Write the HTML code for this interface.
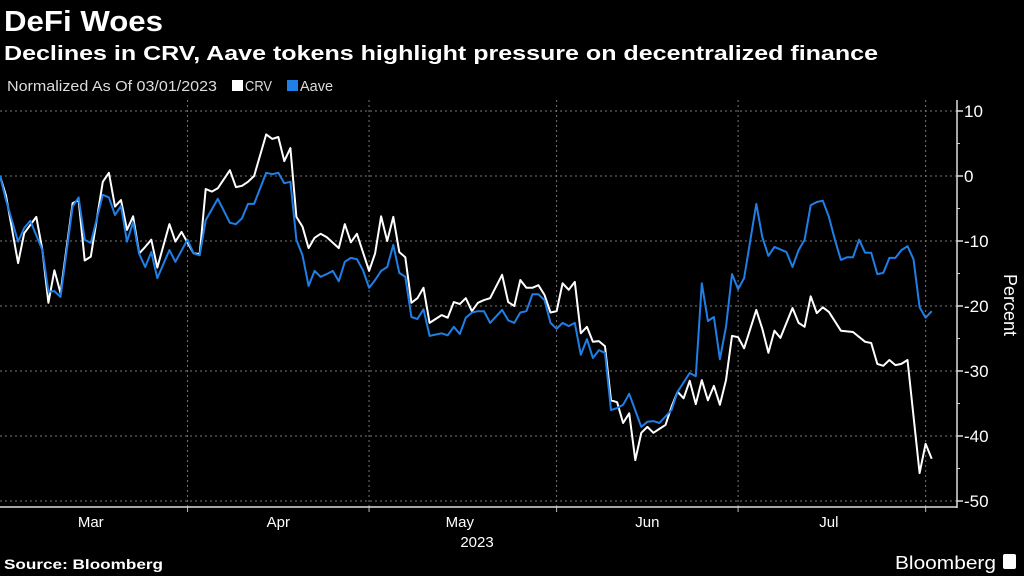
<!DOCTYPE html>
<html><head><meta charset="utf-8"><style>
html,body{margin:0;padding:0;background:#000;width:1024px;height:576px;overflow:hidden;font-family:"Liberation Sans",sans-serif;color:#fff}
svg text{font-family:"Liberation Sans",sans-serif}
</style></head><body>
<svg id="chart" width="1024" height="576">
<text x="4" y="31" font-size="29" font-weight="bold" fill="#fff" textLength="159" lengthAdjust="spacingAndGlyphs">DeFi Woes</text>
<text x="4" y="60" font-size="20" font-weight="bold" fill="#fff" textLength="874" lengthAdjust="spacingAndGlyphs">Declines in CRV, Aave tokens highlight pressure on decentralized finance</text>
<text x="7" y="91" font-size="15" fill="#ddd" textLength="210" lengthAdjust="spacingAndGlyphs">Normalized As Of 03/01/2023</text>
<g><rect x="232" y="80" width="11" height="11" fill="#fff"/><text x="245" y="91" font-size="15" fill="#ddd" textLength="27" lengthAdjust="spacingAndGlyphs">CRV</text></g>
<g><rect x="287" y="80" width="11" height="11" fill="#1f7fe6"/><text x="300" y="91" font-size="15" fill="#ddd" textLength="33" lengthAdjust="spacingAndGlyphs">Aave</text></g>
<g id="grid"></g>
<g id="axes"></g>
<g id="series"></g>
<text transform="translate(1004,305) rotate(90)" text-anchor="middle" font-size="18" fill="#fff">Percent</text>
<text x="477" y="547" text-anchor="middle" font-size="15" fill="#fff">2023</text>
<text x="4" y="569" font-size="14" font-weight="bold" fill="#fff" textLength="159" lengthAdjust="spacingAndGlyphs">Source: Bloomberg</text>
<text x="895" y="569" font-size="18" fill="#fff" textLength="101" lengthAdjust="spacingAndGlyphs">Bloomberg</text>
<rect x="1003" y="554" width="13" height="15" rx="2" fill="#fff"/>
</svg>
<script>
const crvDays=[0,1,3,4,6,7,8,9,10,12,13,14,15,17,18,19,20,21,22,23,24,25,26,28,29,30,32,33,34,35,36,38,39,40,41,42,44,45,46,47,48,49,50,51,52,53,54,56,57,58,59,61,62,63,64,65,66,67,68,69,70,71,73,74,75,76,77,78,79,80,81,83,84,85,86,87,88,89,90,91,92,93,94,95,96,97,98,99,100,101,102,103,104,105,106,107,108,109,110,111,112,113,114,115,116,117,118,119,120,121,122,123,125,126,127,128,129,131,132,133,134,135,136,137,139,141,143,144,145,146,147,148,149,150,152,153,154];
const crvValues=[0,-3,-13.4,-8.8,-6.3,-11.4,-19.5,-14.5,-18,-4.2,-3.7,-13,-12.4,-0.9,0.5,-4.7,-3.7,-8.3,-6.2,-11.9,-10.9,-9.8,-14.1,-7.4,-10.1,-8.6,-11.9,-12,-2,-2.4,-1.9,0.9,-1.7,-1.5,-0.9,0,6.4,5.7,6,2.3,4.3,-6.3,-7.8,-11.1,-9.5,-8.9,-9.4,-11.1,-7.4,-10.2,-8.9,-14.6,-11.9,-6.2,-10,-6.3,-11.7,-12.5,-19.5,-18.8,-17.2,-22.6,-21.4,-21.8,-19.4,-19.7,-18.8,-20.8,-19.5,-19.1,-18.8,-15.2,-19.4,-20,-16,-17.2,-17.2,-16.8,-18.3,-21,-20.8,-16.5,-17.5,-16.3,-24.2,-23.2,-25.5,-25.4,-26.2,-34.5,-34.8,-38,-36.5,-43.7,-39.5,-38.6,-39.5,-38.9,-38.3,-35.5,-33.2,-34.2,-31.5,-35.1,-31.4,-34.5,-32.3,-35.2,-31.4,-24.6,-24.8,-26.5,-20.6,-23.5,-27.2,-23.8,-24.9,-20.3,-22.6,-23.2,-18.5,-21.1,-20.2,-20.9,-23.8,-24,-25.5,-25.7,-28.9,-29.2,-28.3,-29.1,-28.9,-28.3,-45.7,-41.2,-43.5];
const aaveDays=[0,1,3,4,5,7,8,9,10,12,13,14,15,17,18,19,20,21,22,23,24,25,26,28,29,31,32,33,34,36,38,39,40,41,42,44,45,46,47,48,49,50,51,52,53,54,55,56,57,58,59,60,61,62,63,64,65,66,67,68,69,70,71,73,74,75,76,77,78,79,80,81,83,84,85,86,87,88,89,90,91,92,93,94,95,96,97,98,99,100,101,102,103,104,106,107,108,109,110,111,112,114,115,116,117,118,119,120,121,122,123,125,126,127,128,130,131,132,133,134,135,136,137,138,139,140,141,142,143,144,145,146,147,148,149,150,151,152,153,154];
const aaveValues=[0,-3.7,-10.1,-8,-6.9,-11.4,-17.8,-17.7,-18.6,-4.7,-3.3,-9.8,-10.3,-2.9,-3.3,-6,-4.6,-10.1,-7.1,-12,-14,-11.7,-15.7,-11.4,-13.2,-9.8,-11.9,-12.2,-6.8,-3.5,-7.2,-7.4,-6.5,-4.3,-4.3,0.5,0.3,0.5,-1.1,-0.9,-9.8,-12.2,-16.9,-14.6,-15.5,-15.1,-14.6,-16.2,-13.2,-12.6,-12.8,-14.5,-17.2,-16,-14.6,-14,-10.6,-14.9,-15.5,-21.7,-22,-20.5,-24.6,-24.2,-24.5,-23.2,-24.3,-21.8,-21,-20.8,-20.8,-22.6,-20.6,-22.2,-22.6,-21,-20.8,-18.2,-18.2,-19.1,-22.6,-23.5,-22.6,-23.1,-22.6,-27.5,-25.1,-28,-26.8,-27.2,-36,-35.7,-35.2,-33.5,-38.6,-37.8,-37.7,-38,-37,-36,-33.2,-30.3,-30.8,-16.5,-22.3,-21.7,-28.2,-23.2,-15.1,-17.4,-15.7,-4.3,-9.4,-12.3,-10.9,-11.7,-14,-11.4,-9.8,-4.5,-4,-3.8,-6.3,-9.8,-12.9,-12.5,-12.5,-9.8,-11.8,-11.8,-15.1,-14.9,-12.6,-12.6,-11.4,-10.8,-12.8,-20.2,-21.8,-20.8];
const yTicks=[10,0,-10,-20,-30,-40,-50];
const monthStarts=[31,61,92,122,153];
const monthLabels=["Mar","Apr","May","Jun","Jul"];
const monthMid=[15,46,76,107,137];

const NS="http://www.w3.org/2000/svg";
const X0=0,PXD=6.05,Y0=176,PXU=6.5,AX=957,AB=507,AT=100;
function xs(d){return X0+d*PXD;}
function ys(v){return Y0-v*PXU;}
function mk(tag,attrs,parent){const e=document.createElementNS(NS,tag);for(const k in attrs)e.setAttribute(k,attrs[k]);parent.appendChild(e);return e;}
const grid=document.getElementById('grid'),axes=document.getElementById('axes'),series=document.getElementById('series');
yTicks.forEach(t=>{
  const l=mk('line',{x1:0,x2:AX,y1:ys(t),y2:ys(t),stroke:'#777','stroke-width':1,'stroke-dasharray':'2,3'},grid);
  
  
  const tk=mk('line',{x1:AX,x2:AX+6,y1:ys(t),y2:ys(t),stroke:'#ddd','stroke-width':1.5},axes);
  
  
  const tx=mk('text',{x:AX+7,y:ys(t)+6,'font-size':17,fill:'#fff'},axes);
  tx.textContent=t<0?'-'+Math.abs(t):String(t);
  
  
});
for(let t=5;t>-50;t-=10){const m=mk('line',{x1:AX,x2:AX+3,y1:ys(t),y2:ys(t),stroke:'#ccc','stroke-width':1},axes);}
monthStarts.forEach(d=>{
  const l=mk('line',{x1:xs(d),x2:xs(d),y1:AT,y2:AB,stroke:'#777','stroke-width':1,'stroke-dasharray':'2,3'},grid);
  
  
  const tk=mk('line',{x1:xs(d),x2:xs(d),y1:AB,y2:AB+5,stroke:'#bbb','stroke-width':1},axes);
  
  
});
monthLabels.forEach((m,i)=>{
  const tx=mk('text',{x:xs(monthMid[i]),y:527,'text-anchor':'middle','font-size':15,fill:'#fff'},axes);
  tx.textContent=m;
  
  
});
const ya=mk('line',{x1:AX,x2:AX,y1:AT,y2:AB+1,stroke:'#ddd','stroke-width':1.5},axes);


const xa=mk('line',{x1:0,x2:AX,y1:AB,y2:AB,stroke:'#ddd','stroke-width':1.5},axes);


function line(days,vals,color,name){
  const p=mk('polyline',{points:days.map((d,i)=>xs(d).toFixed(1)+','+ys(vals[i]).toFixed(1)).join(' '),fill:'none',stroke:color,'stroke-width':2,'stroke-linejoin':'round'},series);
  
  
}
line(crvDays,crvValues,'#ffffff','crv-line');
line(aaveDays,aaveValues,'#1f7fe6','aave-line');
</script>
</body></html>
